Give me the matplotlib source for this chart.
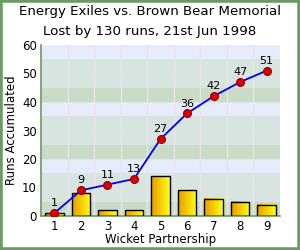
import numpy as np
import matplotlib.pyplot as plt
from matplotlib.colors import LinearSegmentedColormap
from matplotlib.patches import Rectangle

wickets = [1, 2, 3, 4, 5, 6, 7, 8, 9]
partnership = [1, 8, 2, 2, 14, 9, 6, 5, 4]
accumulated = [1, 9, 11, 13, 27, 36, 42, 47, 51]

fig = plt.figure(figsize=(3, 2.5), dpi=100)
fig.patch.set_facecolor("white")
fig.patches.append(Rectangle((0, 0), 1, 1, transform=fig.transFigure,
                             fill=False, edgecolor="#6b9a64", linewidth=4))

ax = fig.add_axes([0.137, 0.136, 0.796, 0.684])

# background bands
band_cols = {"g": "#cadcc8", "m": "#d8e4e0", "b": "#e6ecfc"}
for base in (0, 20, 40):
    ax.axhspan(base, base + 5, color=band_cols["g"], zorder=0, lw=0)
    ax.axhspan(base + 5, base + 15, color=band_cols["m"], zorder=0, lw=0)
    ax.axhspan(base + 15, base + 20, color=band_cols["b"], zorder=0, lw=0)
for y in range(10, 60, 10):
    ax.axhline(y, color="#dde4e2", lw=0.5, zorder=0.5)
for x in np.arange(1.5, 9.5, 1):
    ax.axvline(x, color="#e6e6e6", lw=1, zorder=0.5)

# gradient bars
cmap = LinearSegmentedColormap.from_list("bar", ["#eb9a00", "#ffff10"])
grad = np.linspace(0, 1, 50).reshape(1, -1)
bars = ax.bar(wickets, partnership, width=0.7, facecolor="none",
              edgecolor="black", linewidth=1, zorder=3)
for b in bars:
    x0, y0 = b.get_x(), b.get_y()
    ax.imshow(grad, cmap=cmap, aspect="auto", zorder=2,
              extent=(x0, x0 + b.get_width(), y0, y0 + b.get_height()))
ax.set_xlim(0.5, 9.5)
ax.set_ylim(0, 60)

ax.plot(wickets, accumulated, color="#0000ee", lw=1.3, zorder=4)
ax.plot(wickets, accumulated, "o", color="#e00000", markeredgecolor="#a00000",
        markersize=5.5, zorder=5)
for x, y in zip(wickets, accumulated):
    ax.annotate(str(y), (x, y), xytext=(0, 3.5), textcoords="offset points",
                ha="center", va="bottom", fontsize=8, zorder=6)

for s in ("top", "right"):
    ax.spines[s].set_visible(False)
for s in ("left", "bottom"):
    ax.spines[s].set_color("#6b9a64")
    ax.spines[s].set_linewidth(1.2)
ax.set_xticks(wickets)
ax.set_yticks(range(0, 61, 10))
ax.tick_params(length=0, labelsize=8.5, pad=3)

ax.set_ylabel("Runs Accumulated", fontsize=8.5, labelpad=3)
ax.set_xlabel("Wicket Partnership", fontsize=8.5, labelpad=0)

fig.text(0.5, 0.952, "Energy Exiles vs. Brown Bear Memorial", ha="center",
         va="center", fontsize=9.6)
fig.text(0.5, 0.872, "Lost by 130 runs, 21st Jun 1998", ha="center",
         va="center", fontsize=9.6)

fig.savefig("out.png", dpi=100)
